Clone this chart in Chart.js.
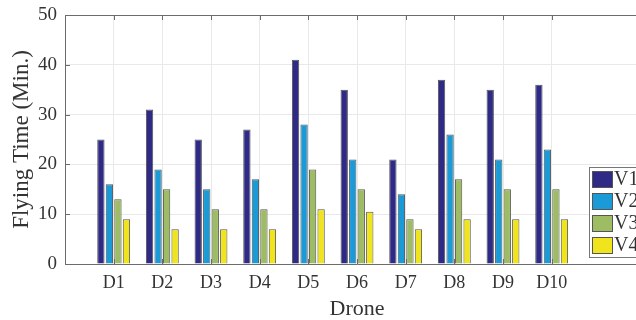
<!DOCTYPE html>
<html>
<head>
<meta charset="utf-8">
<script src="https://cdn.jsdelivr.net/npm/chart.js@4.4.0/dist/chart.umd.min.js"></script>
<style>
  html, body { margin: 0; padding: 0; background: #fff; width: 636px; height: 320px; overflow: hidden; }
  #wrap { width: 650px; height: 320px; }
</style>
</head>
<body>
<div id="wrap"><canvas id="c" width="650" height="320"></canvas></div>
<script>
// Flying time per drone for four variants
const drones = ['D1', 'D2', 'D3', 'D4', 'D5', 'D6', 'D7', 'D8', 'D9', 'D10'];
const v1 = [25, 31, 25, 27, 41, 35, 21, 37, 35, 36];
const v2 = [16, 19, 15, 17, 28, 21, 14, 26, 21, 23];
const v3 = [13, 15, 11, 11, 19, 15, 9, 17, 15, 15];
const v4 = [9, 7, 7, 7, 11, 10.5, 7, 9, 9, 9];
const seriesNames = ['V1', 'V2', 'V3', 'V4'];
const yTicks = [0, 10, 20, 30, 40, 50];

const seriesColors = ['#2f2a85', '#1a9ad6', '#9dbc63', '#f0e51c'];
const serif = '"Liberation Serif", "Times New Roman", serif';
const textColor = '#333333';
const axisColor = '#6b6b6b';

const datasets = [v1, v2, v3, v4].map((vals, k) => ({
  label: seriesNames[k],
  data: vals.map((v, i) => ({ x: i + 1, y: v })),
  backgroundColor: seriesColors[k],
  borderColor: '#555555',
  borderWidth: 1,
  categoryPercentage: 0.7,
  barPercentage: 0.86
}));

// Box ticks (inward), top border and in-plot legend
const boxPlugin = {
  id: 'boxPlugin',
  afterDatasetsDraw(chart) {
    const { ctx, chartArea: a, scales } = chart;
    ctx.save();
    ctx.strokeStyle = axisColor;
    ctx.lineWidth = 1;
    ctx.beginPath();
    ctx.moveTo(a.left, a.top + 0.5);
    ctx.lineTo(a.right, a.top + 0.5);
    scales.x.ticks.forEach(t => {
      const px = Math.round(scales.x.getPixelForValue(t.value)) + 0.5;
      ctx.moveTo(px, a.bottom); ctx.lineTo(px, a.bottom - 5);
      ctx.moveTo(px, a.top); ctx.lineTo(px, a.top + 5);
    });
    scales.y.ticks.forEach(t => {
      const py = Math.round(scales.y.getPixelForValue(t.value)) + 0.5;
      ctx.moveTo(a.left, py); ctx.lineTo(a.left + 5, py);
    });
    ctx.stroke();

    // legend
    const lx = 589.5, ly = 167.5, lw = 70, lh = 90;
    ctx.fillStyle = '#ffffff';
    ctx.fillRect(lx, ly, lw, lh);
    ctx.strokeStyle = '#777777';
    ctx.strokeRect(lx, ly, lw, lh);
    ctx.font = '20px ' + serif;
    ctx.textBaseline = 'middle';
    ctx.textAlign = 'left';
    chart.data.datasets.forEach((ds, k) => {
      const sy = 171 + k * 22;
      ctx.fillStyle = ds.backgroundColor;
      ctx.fillRect(592, sy, 21, 17);
      ctx.strokeStyle = '#555555';
      ctx.strokeRect(592.5, sy + 0.5, 20, 16);
      ctx.fillStyle = textColor;
      ctx.fillText(ds.label, 614, sy + 9);
    });
    ctx.restore();
  }
};

new Chart(document.getElementById('c'), {
  type: 'bar',
  data: { datasets },
  options: {
    responsive: false,
    animation: false,
    layout: { padding: { top: 15, right: 1, left: 0, bottom: 0 } },
    plugins: { legend: { display: false }, tooltip: { enabled: false } },
    scales: {
      x: {
        type: 'linear',
        min: 0,
        max: 12,
        offset: false,
        afterBuildTicks(s) { s.ticks = drones.map((d, i) => ({ value: i + 1 })); },
        afterFit(s) { s.height = 56; s.paddingLeft = 0; s.paddingRight = 0; },
        ticks: {
          autoSkip: false,
          maxRotation: 0,
          padding: 8,
          color: textColor,
          font: { family: serif, size: 18 },
          callback: v => drones[v - 1] ?? ''
        },
        grid: { color: '#e9e9e9', drawTicks: false, offset: false },
        border: { color: axisColor },
        title: {
          display: true,
          text: 'Drone',
          color: textColor,
          font: { family: serif, size: 22, lineHeight: 1 },
          padding: { top: 0, bottom: 0 }
        }
      },
      y: {
        min: 0,
        max: 50,
        afterBuildTicks(s) { s.ticks = yTicks.map(v => ({ value: v })); },
        afterFit(s) { s.width = 65; s.paddingTop = 0; s.paddingBottom = 0; },
        ticks: {
          padding: 8,
          color: textColor,
          font: { family: serif, size: 19 }
        },
        grid: { color: '#e9e9e9', drawTicks: false },
        border: { color: axisColor },
        title: {
          display: true,
          text: 'Flying Time (Min.)',
          color: textColor,
          font: { family: serif, size: 23 },
          padding: { top: 8, bottom: 0 }
        }
      }
    }
  },
  plugins: [boxPlugin]
});
</script>
</body>
</html>
